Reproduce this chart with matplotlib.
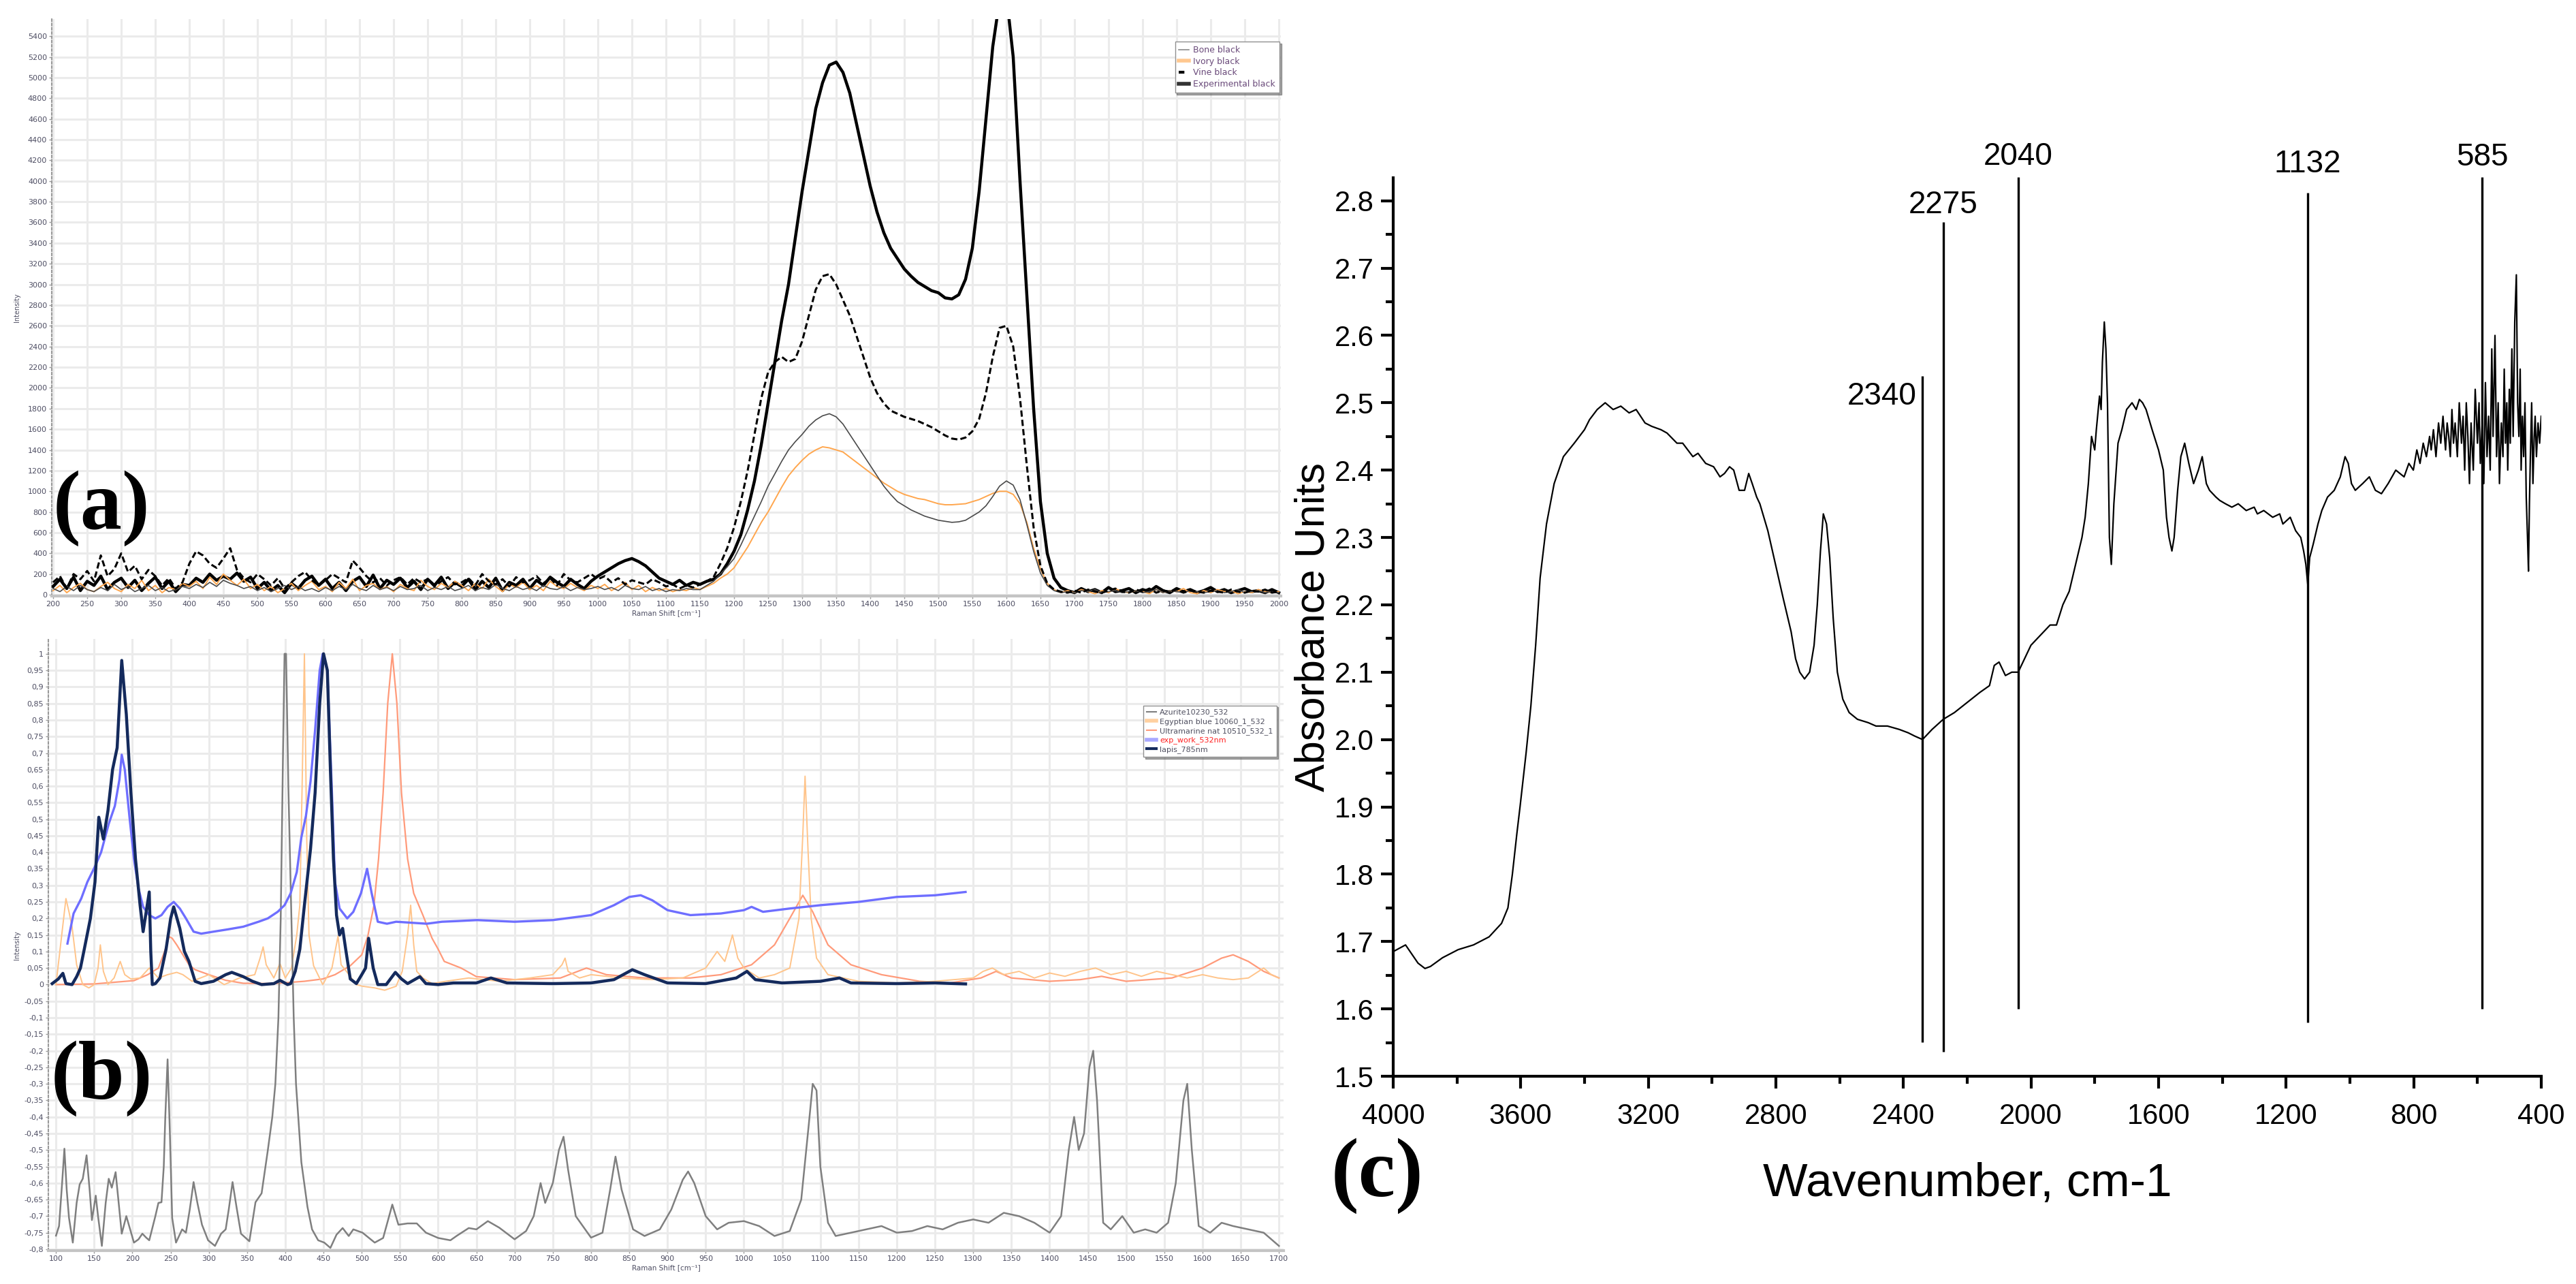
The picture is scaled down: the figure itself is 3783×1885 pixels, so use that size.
import numpy as np
import matplotlib
matplotlib.use("Agg")
import matplotlib.pyplot as plt
from matplotlib import font_manager
from matplotlib.lines import Line2D
from matplotlib.ticker import MultipleLocator, FuncFormatter

# ---------------- Panel (a): Raman spectra of blacks ----------------
raman_a = np.arange(200, 2001, 10)
experimental_black = [
    80, 150, 60, 170, 40, 130, 90, 180, 50, 120,
    160, 70, 140, 40, 110, 170, 60, 130, 30, 100,
    90, 160, 120, 200, 140, 180, 150, 210, 130, 170,
    60, 120, 40, 90, 20, 110, 60, 140, 180, 90,
    150, 60, 120, 40, 130, 170, 80, 190, 60, 140,
    100, 160, 70, 130, 50, 150, 90, 170, 60, 120,
    80, 150, 50, 130, 70, 160, 40, 120, 90, 150,
    60, 140, 90, 170, 120, 80, 150, 100, 60, 130,
    180, 220, 260, 300, 330, 350, 320, 280, 220, 160,
    130, 100, 140, 90, 120, 100, 130, 150, 200, 300,
    420, 580, 820, 1100, 1450, 1850, 2250, 2650, 3000, 3450,
    3900, 4300, 4700, 4950, 5120, 5150, 5050, 4850, 4550, 4250,
    3950, 3700, 3500, 3350, 3250, 3150, 3080, 3020, 2980, 2940,
    2920, 2870, 2860, 2900, 3050, 3350, 3900, 4600, 5300, 5750,
    5800, 5200, 4000, 2900, 1800, 900, 400, 160, 70, 40,
    20, 60, 30, 50, 20, 70, 30, 40, 60, 20,
    50, 30, 80, 40, 20, 60, 30, 50, 20, 40,
    70, 30, 50, 20, 40, 60, 30, 40, 20, 50,
    20]
vine_black = [
    120, 180, 60, 200, 150, 230, 130, 380, 180, 250,
    400, 220, 280, 150, 240, 180, 90, 160, 60, 120,
    300, 420, 380, 300, 260, 350, 450, 240, 160, 120,
    200, 150, 90, 160, 60, 120, 180, 220, 140, 90,
    140, 200, 160, 120, 330, 260, 180, 120, 160, 90,
    140, 170, 100, 160, 120, 150, 80, 130, 170, 100,
    120, 160, 90, 200, 130, 100, 150, 80, 170, 120,
    140, 180, 110, 160, 90, 200, 140, 120, 160, 200,
    150, 180, 120, 160, 100, 140, 120, 100, 150, 120,
    80, 100, 60, 90, 70, 100, 130, 170, 300, 450,
    650, 900, 1200, 1550, 1900, 2150, 2250, 2300, 2250, 2280,
    2450, 2700, 2950, 3080, 3100, 3000, 2850, 2700, 2500, 2300,
    2100, 1950, 1850, 1780, 1750, 1720, 1700, 1680, 1650, 1620,
    1580, 1540, 1510, 1500, 1520, 1580, 1700, 1950, 2300, 2580,
    2600, 2400, 1900, 1250, 650, 280, 110, 50, 30, 20,
    40, 20, 50, 30, 20, 40, 60, 30, 20, 50,
    30, 60, 20, 40, 30, 50, 20, 40, 30, 20,
    40, 30, 20, 50, 30, 20, 40, 30, 50, 20,
    30]
bone_black = [
    60, 30, 80, 40, 90, 50, 30, 70, 40, 100,
    50, 80, 30, 60, 90, 40, 70, 30, 50, 80,
    60, 100, 70, 120, 80, 140, 110, 90, 60, 80,
    40, 70, 30, 60, 90, 50, 80, 40, 60, 30,
    70, 40, 80, 50, 100, 60, 40, 90, 50, 70,
    40, 80, 50, 60, 90, 40, 70, 50, 80, 40,
    60, 90, 40, 70, 50, 100, 60, 40, 80, 50,
    70, 40, 90, 60, 50, 80, 40, 70, 50, 60,
    80, 50, 70, 40, 90, 60, 50, 80, 40, 60,
    30, 50, 40, 60, 50, 50, 90, 130, 200, 270,
    350, 480, 620, 760, 900, 1050, 1170, 1290, 1400, 1480,
    1550, 1630, 1690, 1730, 1750, 1720, 1650, 1550, 1450, 1350,
    1250, 1150, 1050, 970, 900, 860, 820, 790, 760, 740,
    720, 710, 700, 705, 720, 760, 800, 860, 950, 1050,
    1100, 1060, 920, 680, 420, 210, 90, 40, 20, 30,
    20, 40, 30, 50, 20, 30, 40, 20, 30, 40,
    20, 30, 50, 20, 40, 30, 20, 40, 30, 20,
    30, 40, 20, 30, 50, 20, 30, 40, 20, 30,
    20]
ivory_black = [
    40, 90, 20, 70, 110, 50, 30, 80, 120, 60,
    30, 100, 60, 140, 40, 90, 20, 70, 50, 110,
    80, 130, 60, 170, 100, 200, 140, 90, 150, 60,
    100, 40, 80, 20, 60, 110, 40, 90, 130, 50,
    80, 30, 120, 60, 150, 40, 90, 110, 50, 80,
    30, 100, 60, 40, 140, 80, 50, 110, 70, 130,
    90, 40, 110, 60, 150, 80, 30, 100, 70, 120,
    50, 90, 40, 130, 80, 60, 110, 70, 40, 90,
    60, 100, 40, 80, 120, 50, 90, 30, 70, 40,
    60, 30, 50, 40, 70, 50, 80, 110, 160, 200,
    260, 360, 460, 580, 700, 800, 920, 1040, 1150, 1230,
    1300, 1360, 1400, 1430, 1420, 1400, 1380, 1330, 1280, 1230,
    1180, 1130, 1080, 1040, 1000, 970, 950, 930, 920, 900,
    880, 870, 870, 875, 880, 900, 920, 950, 980, 1000,
    1000, 970, 880, 700, 450, 250, 110, 50, 20, 40,
    20, 50, 30, 10, 40, 20, 60, 30, 20, 40,
    30, 10, 50, 20, 40, 30, 60, 20, 10, 40,
    20, 50, 30, 40, 10, 30, 20, 50, 30, 20,
    30]
legend_a = ["Bone black", "Ivory black", "Vine black", "Experimental black"]

# ---------------- Panel (b): Raman spectra of blue pigments ----------------
azurite_x = [100, 104, 108, 111, 114, 117, 122, 127, 131, 135,
             140, 144, 147, 152, 155, 160, 165, 169, 173, 178,
             182, 186, 192, 197, 202, 208, 213, 218, 222, 230,
             234, 238, 241, 243, 246, 249, 252, 257, 261, 265,
             270, 275, 280, 285, 291, 299, 308, 316, 322, 326,
             331, 336, 342, 353, 361, 369, 377, 383, 387, 391,
             394, 397, 399, 401, 404, 408, 411, 414, 421, 429,
             435, 443, 451, 459, 467, 475, 483, 489, 501, 517,
             528, 540, 548, 560, 572, 584, 600, 616, 624, 640,
             650, 665, 680, 700, 715, 725, 734, 740, 750, 758,
             764, 770, 780, 800, 815, 825, 832, 840, 855, 870,
             890, 905, 920, 927, 935, 950, 965, 980, 1000, 1020,
             1040, 1060, 1075, 1085, 1090, 1095, 1100, 1110, 1120, 1140,
             1160, 1180, 1200, 1220, 1240, 1260, 1280, 1300, 1320, 1340,
             1360, 1380, 1400, 1415, 1425, 1432, 1438, 1445, 1452, 1457,
             1462, 1470, 1480, 1495, 1510, 1525, 1540, 1555, 1565, 1575,
             1580, 1586, 1595, 1610, 1625, 1640, 1660, 1680, 1700]
azurite_y = [-0.759, -0.73, -0.60, -0.496, -0.62, -0.705, -0.78, -0.66, -0.604, -0.587,
             -0.516, -0.62, -0.712, -0.638, -0.70, -0.79, -0.66, -0.587, -0.614, -0.567,
             -0.66, -0.753, -0.70, -0.74, -0.78, -0.77, -0.753, -0.765, -0.773, -0.70,
             -0.66, -0.658, -0.55, -0.40, -0.226, -0.45, -0.705, -0.78, -0.76, -0.74,
             -0.75, -0.68, -0.597, -0.66, -0.726, -0.773, -0.79, -0.753, -0.74, -0.68,
             -0.597, -0.67, -0.753, -0.776, -0.658, -0.631, -0.503, -0.40, -0.30, -0.10,
             0.2, 0.7, 1.0, 1.0, 0.6, 0.2, -0.1, -0.30, -0.537, -0.672,
             -0.74, -0.773, -0.78, -0.796, -0.756, -0.736, -0.76, -0.74, -0.75, -0.78,
             -0.766, -0.665, -0.726, -0.722, -0.722, -0.75, -0.766, -0.773, -0.76, -0.736,
             -0.74, -0.715, -0.735, -0.77, -0.745, -0.70, -0.6, -0.66, -0.6, -0.5,
             -0.46, -0.56, -0.7, -0.765, -0.75, -0.62, -0.52, -0.62, -0.74, -0.76,
             -0.74, -0.68, -0.59, -0.565, -0.6, -0.7, -0.74, -0.72, -0.715, -0.73,
             -0.76, -0.745, -0.65, -0.42, -0.3, -0.32, -0.55, -0.72, -0.76, -0.75,
             -0.74, -0.73, -0.75, -0.745, -0.73, -0.74, -0.72, -0.71, -0.72, -0.69,
             -0.7, -0.72, -0.75, -0.7, -0.5, -0.4, -0.5, -0.45, -0.25, -0.2,
             -0.35, -0.72, -0.74, -0.7, -0.75, -0.74, -0.75, -0.72, -0.6, -0.35,
             -0.3, -0.5, -0.73, -0.75, -0.72, -0.73, -0.74, -0.75, -0.79]

egyptian_x = [100, 105, 110, 113, 117, 121, 127, 135, 143, 150,
              155, 158, 162, 168, 176, 184, 190, 198, 210, 222,
              234, 246, 258, 266, 278, 300, 320, 340, 360, 367,
              371, 375, 385, 393, 400, 408, 415, 419, 422, 425,
              428, 431, 437, 449, 461, 469, 473, 481, 493, 501,
              517, 530, 545, 553, 560, 564, 568, 572, 580, 592,
              610, 640, 680, 720, 750, 762, 766, 770, 785, 800,
              840, 880, 920, 950, 965, 975, 985, 992, 1000, 1020,
              1040, 1060, 1072, 1077, 1080, 1084, 1088, 1095, 1110, 1150,
              1200, 1250, 1300, 1313, 1325, 1340, 1360, 1380, 1400, 1420,
              1440, 1460, 1480, 1500, 1520, 1540, 1560, 1580, 1600, 1620,
              1640, 1660, 1680, 1690, 1700]
egyptian_y = [0.0, 0.1, 0.2, 0.26, 0.22, 0.175, 0.06, 0.0, -0.01, 0.0,
              0.05, 0.12, 0.04, 0.0, 0.02, 0.07, 0.03, 0.017, 0.02, 0.05,
              0.02, 0.03, 0.037, 0.03, 0.01, 0.03, 0.0, 0.02, 0.03, 0.08,
              0.114, 0.06, 0.02, 0.064, 0.02, 0.05, 0.15, 0.24, 0.6, 1.0,
              0.445, 0.15, 0.057, 0.0, 0.05, 0.147, 0.06, 0.037, 0.0, -0.005,
              -0.01, -0.017, -0.005, 0.04, 0.15, 0.24, 0.12, 0.04, 0.02, 0.003,
              0.01, 0.02, 0.01, 0.02, 0.03, 0.06, 0.08, 0.04, 0.02, 0.03,
              0.02, 0.015, 0.02, 0.05, 0.1, 0.07, 0.15, 0.08, 0.05, 0.02,
              0.03, 0.05, 0.2, 0.45, 0.63, 0.4, 0.2, 0.08, 0.03, 0.01,
              0.005, 0.01, 0.02, 0.04, 0.05, 0.03, 0.04, 0.02, 0.035, 0.025,
              0.04, 0.05, 0.03, 0.04, 0.025, 0.04, 0.03, 0.02, 0.03, 0.02,
              0.015, 0.02, 0.05, 0.03, 0.02]

ultramarine_x = [100, 150, 202, 220, 234, 242, 248, 252, 258, 266,
                 274, 282, 300, 322, 345, 385, 425, 449, 465, 485,
                 500, 508, 516, 522, 528, 534, 540, 546, 552, 560,
                 568, 580, 592, 600, 608, 630, 650, 700, 760, 794,
                 820, 870, 930, 970, 1010, 1040, 1060, 1077, 1090, 1110,
                 1140, 1180, 1230, 1270, 1310, 1330, 1350, 1400, 1440, 1468,
                 1500, 1560, 1600, 1625, 1640, 1660, 1680, 1700]
ultramarine_y = [0.0, 0.002, 0.012, 0.03, 0.05, 0.1, 0.145, 0.14, 0.12, 0.09,
                 0.06, 0.045, 0.03, 0.013, 0.004, 0.003, 0.01, 0.017, 0.03, 0.057,
                 0.09, 0.147, 0.24, 0.38, 0.58, 0.85, 1.0, 0.85, 0.58, 0.38,
                 0.276, 0.21, 0.14, 0.107, 0.07, 0.05, 0.024, 0.015, 0.02, 0.05,
                 0.03, 0.02, 0.02, 0.03, 0.06, 0.12, 0.2, 0.27, 0.22, 0.12,
                 0.06, 0.03, 0.01, 0.005, 0.02, 0.04, 0.02, 0.01, 0.015, 0.025,
                 0.01, 0.02, 0.05, 0.08, 0.09, 0.07, 0.04, 0.02]

exp_work_x = [115, 123, 133, 141, 151, 159, 169, 177, 183, 186,
              190, 196, 202, 208, 214, 222, 230, 238, 246, 254,
              262, 270, 280, 290, 306, 325, 345, 365, 377, 390,
              399, 407, 415, 421, 427, 433, 439, 445, 449, 455,
              461, 465, 471, 481, 489, 499, 507, 513, 521, 533,
              545, 565, 585, 605, 625, 651, 700, 750, 800, 830,
              850, 865, 880, 900, 930, 970, 1000, 1010, 1025, 1060,
              1100, 1150, 1200, 1250, 1290]
exp_work_y = [0.124, 0.215, 0.26, 0.31, 0.357, 0.40, 0.486, 0.54, 0.62, 0.695,
              0.65, 0.51, 0.38, 0.29, 0.235, 0.21, 0.20, 0.21, 0.235, 0.25,
              0.23, 0.20, 0.16, 0.154, 0.16, 0.167, 0.175, 0.19, 0.20, 0.22,
              0.24, 0.276, 0.34, 0.445, 0.51, 0.614, 0.77, 0.95, 1.0, 0.95,
              0.58, 0.31, 0.23, 0.20, 0.22, 0.276, 0.35, 0.276, 0.19, 0.184,
              0.19, 0.187, 0.184, 0.19, 0.192, 0.195, 0.19, 0.195, 0.21, 0.24,
              0.265, 0.27, 0.255, 0.225, 0.21, 0.215, 0.225, 0.235, 0.22, 0.23,
              0.24, 0.25, 0.265, 0.27, 0.28]

lapis_x = [95, 103, 109, 113, 121, 127, 132, 137, 145, 151,
           156, 162, 168, 174, 180, 186, 192, 198, 204, 210,
           214, 218, 222, 224, 226, 230, 236, 244, 250, 254,
           262, 268, 274, 282, 290, 306, 322, 330, 345, 357,
           369, 385, 393, 403, 407, 413, 419, 425, 433, 439,
           445, 450, 455, 459, 463, 467, 471, 475, 479, 485,
           493, 500, 505, 509, 515, 521, 532, 544, 552, 560,
           576, 584, 600, 620, 650, 669, 690, 750, 800, 830,
           854, 870, 900, 950, 990, 1004, 1015, 1050, 1100, 1125,
           1140, 1200, 1250, 1290]
lapis_y = [0.003, 0.017, 0.034, 0.003, 0.0, 0.024, 0.05, 0.107, 0.20, 0.31,
           0.506, 0.44, 0.526, 0.65, 0.716, 0.98, 0.817, 0.58, 0.38, 0.24,
           0.16, 0.22, 0.28, 0.1, 0.0, 0.003, 0.02, 0.107, 0.2, 0.235,
           0.17, 0.10, 0.07, 0.01, 0.003, 0.01, 0.03, 0.037, 0.024, 0.01,
           0.0, 0.003, 0.013, 0.0, 0.003, 0.04, 0.107, 0.24, 0.41, 0.58,
           0.85, 1.0, 0.95, 0.65, 0.38, 0.21, 0.15, 0.17, 0.107, 0.017,
           0.003, 0.03, 0.05, 0.14, 0.05, 0.0, 0.0, 0.037, 0.017, 0.003,
           0.024, 0.003, 0.0, 0.005, 0.005, 0.02, 0.005, 0.003, 0.005, 0.015,
           0.045, 0.03, 0.005, 0.003, 0.02, 0.04, 0.015, 0.005, 0.01, 0.02,
           0.005, 0.003, 0.005, 0.002]
legend_b = ["Azurite10230_532", "Egyptian blue 10060_1_532",
            "Ultramarine nat 10510_532_1", "exp_work_532nm", "lapis_785nm"]

# ---------------- Panel (c): FTIR spectrum ----------------
c_wavenumber = [
    4000, 3961, 3922, 3900, 3883, 3845, 3796, 3748, 3699, 3660,
    3640, 3626, 3612, 3602, 3590, 3583, 3568, 3553, 3539, 3519,
    3495, 3466, 3432, 3400, 3384, 3360, 3335, 3310, 3286, 3260,
    3238, 3210, 3189, 3160, 3141, 3110, 3092, 3060, 3044, 3020,
    2995, 2975, 2961, 2945, 2932, 2915, 2898, 2885, 2874, 2860,
    2850, 2825, 2801, 2777, 2752, 2738, 2725, 2710, 2694, 2680,
    2670, 2660, 2651, 2641, 2631, 2620, 2607, 2590, 2570, 2544,
    2510, 2486, 2450, 2413, 2385, 2364, 2340, 2310, 2275, 2240,
    2200, 2160, 2130, 2115, 2100, 2080, 2060, 2040, 2020, 2000,
    1980, 1960, 1940, 1920, 1900, 1880, 1865, 1850, 1840, 1830,
    1820, 1810, 1800, 1795, 1785, 1780, 1776, 1770, 1765, 1760,
    1754, 1748, 1740, 1727, 1715, 1700, 1683, 1670, 1660, 1650,
    1639, 1620, 1600, 1585, 1575, 1567, 1558, 1551, 1540, 1530,
    1518, 1505, 1490, 1475, 1463, 1450, 1440, 1420, 1408, 1390,
    1370, 1350, 1325, 1300, 1290, 1270, 1242, 1220, 1210, 1187,
    1170, 1154, 1145, 1138, 1132, 1126, 1115, 1100, 1088, 1070,
    1049, 1030, 1015, 1005, 995, 983, 960, 939, 920, 901,
    880, 856, 830, 815, 801, 790, 780, 770, 760, 750,
    745, 738, 730, 722, 715, 708, 700, 695, 690, 685,
    680, 675, 670, 663, 657, 650, 645, 640, 635, 630,
    625, 620, 613, 607, 600, 595, 591, 585, 580, 575,
    570, 565, 560, 555, 551, 545, 540, 535, 531, 525,
    520, 516, 512, 508, 505, 500, 497, 492, 488, 483,
    478, 474, 470, 466, 463, 459, 455, 451, 447, 443,
    440, 437, 434, 430, 426, 422, 419, 415, 410, 405,
    400]
c_absorbance = [
    1.685, 1.695, 1.668, 1.660, 1.663, 1.676, 1.688, 1.695, 1.707, 1.727,
    1.75, 1.80, 1.86, 1.90, 1.95, 1.98, 2.05, 2.14, 2.24, 2.32,
    2.38, 2.42, 2.44, 2.46, 2.475, 2.49, 2.50, 2.49, 2.495, 2.485,
    2.49, 2.47, 2.465, 2.46, 2.455, 2.44, 2.44, 2.42, 2.425, 2.41,
    2.405, 2.39, 2.395, 2.405, 2.40, 2.37, 2.37, 2.395, 2.38, 2.36,
    2.35, 2.31, 2.26, 2.21, 2.16, 2.12, 2.10, 2.09, 2.10, 2.14,
    2.20, 2.28, 2.335, 2.32, 2.27, 2.18, 2.10, 2.06, 2.04, 2.03,
    2.025, 2.02, 2.02, 2.015, 2.01, 2.005, 2.0, 2.015, 2.03, 2.04,
    2.055, 2.07, 2.08, 2.11, 2.115, 2.095, 2.10, 2.10, 2.12, 2.14,
    2.15, 2.16, 2.17, 2.17, 2.20, 2.22, 2.25, 2.28, 2.30, 2.33,
    2.38, 2.45, 2.43, 2.46, 2.51, 2.49, 2.56, 2.62, 2.58, 2.50,
    2.30, 2.26, 2.35, 2.44, 2.46, 2.49, 2.50, 2.49, 2.505, 2.50,
    2.49, 2.46, 2.43, 2.40, 2.33, 2.30, 2.28, 2.30, 2.37, 2.42,
    2.44, 2.41, 2.38, 2.40, 2.42, 2.38, 2.37, 2.36, 2.355, 2.35,
    2.345, 2.35, 2.34, 2.345, 2.335, 2.34, 2.33, 2.335, 2.32, 2.33,
    2.31, 2.30, 2.28, 2.26, 2.23, 2.27, 2.29, 2.32, 2.34, 2.36,
    2.37, 2.39, 2.42, 2.41, 2.38, 2.37, 2.38, 2.39, 2.37, 2.365,
    2.38, 2.40, 2.39, 2.41, 2.40, 2.43, 2.41, 2.44, 2.42, 2.45,
    2.43, 2.46, 2.42, 2.47, 2.44, 2.48, 2.43, 2.47, 2.45, 2.42,
    2.49, 2.44, 2.47, 2.42, 2.50, 2.44, 2.48, 2.40, 2.50, 2.45,
    2.38, 2.47, 2.40, 2.52, 2.44, 2.50, 2.41, 2.47, 2.38, 2.53,
    2.42, 2.48, 2.40, 2.58, 2.45, 2.60, 2.42, 2.50, 2.38, 2.47,
    2.42, 2.55, 2.44, 2.50, 2.40, 2.52, 2.44, 2.58, 2.45, 2.62,
    2.69, 2.50, 2.45, 2.55, 2.40, 2.48, 2.42, 2.50, 2.36, 2.30,
    2.25, 2.35, 2.42, 2.50, 2.38, 2.45, 2.48, 2.42, 2.47, 2.44,
    2.48]
marker_wavenumbers = [2340, 2275, 2040, 1132, 585]
marker_labels = ["2340", "2275", "2040", "1132", "585"]
marker_bottoms = [1.551, 1.536, 1.600, 1.580, 1.600]
marker_tops = [2.540, 2.768, 2.835, 2.812, 2.835]

# label layout for the marker texts (offsets in data units, not data)
label_dx = [18, 0, 0, 0, 0]
label_dy = [-0.008, 0.013, 0.018, 0.030, 0.017]
label_ha = ['right', 'center', 'center', 'center', 'center']
label_va = ['top', 'baseline', 'baseline', 'baseline', 'baseline']


def font_available(name):
    try:
        font_manager.findfont(font_manager.FontProperties(family=name), fallback_to_default=False)
        return True
    except Exception:
        return False


HAS_NARROW = font_available('Liberation Sans Narrow')
C_FONT = 'Liberation Sans Narrow' if HAS_NARROW else 'Liberation Sans'
TICK_FS = 36 if HAS_NARROW else 30
ANNOT_FS = 40 if HAS_NARROW else 33
XLAB_FS = 60 if HAS_NARROW else 50

# ---------------- Figure ----------------
fig = plt.figure(figsize=(37.83, 18.85), dpi=100)
small_txt = '#4d4d62'
grid_col = '#ebebeb'


def style_software_axes(ax):
    ax.set_facecolor('white')
    ax.grid(True, color=grid_col, linewidth=2.2, zorder=0)
    ax.set_axisbelow(True)
    for s in ['top', 'right']:
        ax.spines[s].set_visible(False)
    ax.spines['left'].set_color('#9a9a9a')
    ax.spines['left'].set_linestyle((0, (1.5, 1.5)))
    ax.spines['left'].set_linewidth(1.5)
    ax.spines['bottom'].set_color('#c4c4c4')
    ax.spines['bottom'].set_linewidth(3)
    ax.tick_params(axis='both', labelsize=8, colors='#9a9a9a', labelcolor=small_txt,
                   length=3, width=1, pad=2)
    for lab in ax.get_xticklabels() + ax.get_yticklabels():
        lab.set_fontfamily('DejaVu Sans')


# Panel (a)
axA = fig.add_axes([0.0201, 0.5356, 0.4771, 0.4495])
axA.plot(raman_a, experimental_black, color='black', lw=3.2, zorder=3)
axA.plot(raman_a, ivory_black, color='#ffa64d', lw=1.4, zorder=4)
axA.plot(raman_a, bone_black, color='#4a4a4a', lw=1.2, zorder=5)
axA.plot(raman_a, vine_black, color='black', lw=2.2, ls=(0, (3, 1.5)), zorder=6)
axA.set_xlim(198, 2003)
axA.set_ylim(-15, 5565)
axA.set_xticks(np.arange(200, 2001, 50))
axA.set_yticks(np.arange(0, 5401, 200))
style_software_axes(axA)
axA.set_xlabel('Raman Shift [cm⁻¹]', fontsize=7.5, color=small_txt, labelpad=2)
axA.set_ylabel('Intensity', fontsize=7, color=small_txt, labelpad=8)
hA = [Line2D([], [], color='#8a8a8a', lw=1.2),
      Line2D([], [], color='#ffc890', lw=4),
      Line2D([], [], color='black', lw=3, ls=(0, (2, 2))),
      Line2D([], [], color='#333333', lw=4)]
legA = axA.legend(hA, legend_a, loc='upper right', bbox_to_anchor=(0.4983, 0.9708),
                  bbox_transform=fig.transFigure, fontsize=9, frameon=True,
                  fancybox=False, shadow=True, edgecolor='#909090', handlelength=1.2,
                  borderpad=0.45, labelspacing=0.3, handletextpad=0.5)
for t in legA.get_texts():
    t.set_color('#6a4a7a')

# Panel (b)
axB = fig.add_axes([0.01877, 0.0258, 0.4795, 0.4766])
axB.plot(ultramarine_x, ultramarine_y, color='#ff9a7a', lw=1.6, zorder=3)
axB.plot(egyptian_x, egyptian_y, color='#ffc48a', lw=1.4, zorder=4)
axB.plot(azurite_x, azurite_y, color='#7f7f7f', lw=1.8, zorder=5)
axB.plot(exp_work_x, exp_work_y, color='#6e6eff', lw=2.4, zorder=6)
axB.plot(lapis_x, lapis_y, color='#142a5c', lw=3.2, zorder=7)
axB.set_xlim(90, 1706)
axB.set_ylim(-0.805, 1.045)
axB.set_xticks(np.arange(100, 1701, 50))
axB.set_yticks(np.round(np.arange(-0.8, 1.0001, 0.05), 2))
axB.yaxis.set_major_formatter(FuncFormatter(lambda v, p: ('%g' % round(v, 2)).replace('.', ',')))
style_software_axes(axB)
axB.set_xlabel('Raman Shift [cm⁻¹]', fontsize=7.5, color=small_txt, labelpad=2)
axB.set_ylabel('Intensity', fontsize=7, color=small_txt, labelpad=4)
hB = [Line2D([], [], color='#7f7f7f', lw=1.5),
      Line2D([], [], color='#ffd0a0', lw=4),
      Line2D([], [], color='#ff9a7a', lw=1.5),
      Line2D([], [], color='#a8a8ff', lw=4),
      Line2D([], [], color='#142a5c', lw=3)]
legB = axB.legend(hB, legend_b, loc='upper right', bbox_to_anchor=(0.497, 0.4536),
                  bbox_transform=fig.transFigure, fontsize=8, frameon=True,
                  fancybox=False, shadow=True, edgecolor='#909090', handlelength=1.2,
                  borderpad=0.45, labelspacing=0.25, handletextpad=0.5)
for i, t in enumerate(legB.get_texts()):
    t.set_color('#ff2020' if i == 3 else '#505060')

# Panel labels
for lab, (x, y) in zip(['(a)', '(b)', '(c)'], [(0.0395, 0.604), (0.0395, 0.160), (0.5345, 0.084)]):
    fig.text(x, y, lab, fontsize=88, fontweight='bold', family='Liberation Serif',
             ha='center', va='center')

# Panel (c)
axC = fig.add_axes([0.5408, 0.1618, 0.4457, 0.6997])
axC.plot(c_wavenumber, c_absorbance, color='black', lw=1.6)
axC.set_xlim(4000, 400)
axC.set_ylim(1.5, 2.834)
axC.xaxis.set_major_locator(MultipleLocator(400))
axC.xaxis.set_minor_locator(MultipleLocator(200))
axC.set_yticks(np.round(np.arange(1.5, 2.81, 0.1), 1))
axC.yaxis.set_minor_locator(MultipleLocator(0.05))
axC.yaxis.set_major_formatter(FuncFormatter(lambda v, p: '%.1f' % v))
for s in ['top', 'right']:
    axC.spines[s].set_visible(False)
for s in ['left', 'bottom']:
    axC.spines[s].set_linewidth(3.0)
axC.tick_params(which='major', direction='out', length=13, width=3.0, labelsize=TICK_FS)
axC.tick_params(axis='x', which='major', pad=15)
axC.tick_params(axis='y', which='major', pad=7)
axC.tick_params(which='minor', direction='out', length=8, width=3.0)
for lab in axC.get_xticklabels() + axC.get_yticklabels():
    lab.set_fontfamily(C_FONT)
axC.set_xlabel('Wavenumber, cm-1', fontsize=XLAB_FS, family=C_FONT, labelpad=34)
axC.set_ylabel('Absorbance Units', fontsize=44, family='Liberation Sans', labelpad=2)
axC.vlines(marker_wavenumbers, marker_bottoms, marker_tops, colors='black', lw=2.4, clip_on=False)
for i, (xw, lab, top) in enumerate(zip(marker_wavenumbers, marker_labels, marker_tops)):
    axC.text(xw + label_dx[i], top + label_dy[i], lab, fontsize=ANNOT_FS, family=C_FONT,
             ha=label_ha[i], va=label_va[i], clip_on=False)

fig.savefig('out.png', dpi=100, facecolor='white')
